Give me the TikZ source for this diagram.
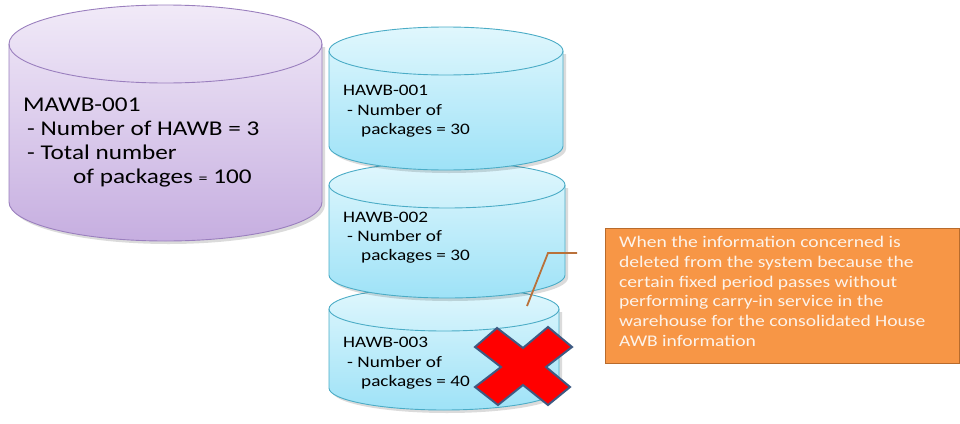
\documentclass[tikz,border=0pt]{standalone}
\usepackage{fontspec}
\setmainfont{Carlito}[FakeStretch=1.2]
\definecolor{mawbtop}{HTML}{F1EAF8}
\definecolor{mawbbot}{HTML}{C6AEE0}
\definecolor{mawbline}{HTML}{9A7FBE}
\definecolor{hawbtop}{HTML}{E0F7FD}
\definecolor{hawbbot}{HTML}{9EE2F7}
\definecolor{hawbline}{HTML}{4BACC6}
\definecolor{notefill}{HTML}{F79646}
\definecolor{noteline}{HTML}{B86B2C}
\definecolor{callout}{HTML}{B9713A}
\definecolor{xred}{HTML}{FF0000}
\definecolor{xline}{HTML}{3E5A82}
\definecolor{notetext}{HTML}{FDF3EA}
\newcommand{\mycyl}[7]{%
  % #1 L, #2 R, #3 rx, #4 top centre y, #5 bottom centre y, #6 ry, #7 style name
  \fill[black,opacity=0.14] (#1+3,-#4-3) -- (#1+3,-#5-3) arc[start angle=180,end angle=360,x radius=#3,y radius=#6] -- (#2+3,-#4-3) -- cycle;
  \path[#7] (#1,-#4) -- (#1,-#5) arc[start angle=180,end angle=360,x radius=#3,y radius=#6]
     -- (#2,-#4) arc[start angle=0,end angle=180,x radius=#3,y radius=#6] -- cycle;
  \draw[#7edge] (#1,-#4) arc[start angle=180,end angle=360,x radius=#3,y radius=#6];
}
\tikzset{
  mawb/.style={draw=mawbline,line width=0.9pt,top color=mawbtop,bottom color=mawbbot},
  mawbedge/.style={draw=mawbline,line width=0.9pt},
  hawb/.style={draw=hawbline,line width=0.9pt,top color=hawbtop,bottom color=hawbbot},
  hawbedge/.style={draw=hawbline,line width=0.9pt},
  bigtxt/.style={anchor=base west,inner sep=0pt,font=\fontsize{21}{24}\selectfont,text=black},
  smalltxt/.style={anchor=base west,inner sep=0pt,font=\fontsize{16}{18}\selectfont,text=black},
  notebox/.style={draw=noteline,line width=1.3pt,fill=notefill,anchor=north west,
     inner sep=0pt,minimum width=354pt,minimum height=135pt},
}
\begin{document}
\begin{tikzpicture}[x=1pt,y=1pt]
\useasboundingbox (0,0) rectangle (960,-423);
% cylinders (back to front)
\mycyl{329}{559}{115}{309}{388}{22}{hawb}
\mycyl{329}{565}{118}{185}{275}{23}{hawb}
\mycyl{329}{563}{117}{51}{146}{24}{hawb}
\mycyl{9}{322}{156.5}{44}{202}{39}{mawb}
% MAWB text
\node[bigtxt] (m1) at (23,-111) {MAWB-001};
\node[bigtxt] (m2) at (27,-135) {- Number of HAWB = 3};
\node[bigtxt] (m3) at (27,-159) {- Total number};
\node[bigtxt] (m4) at (73,-183) {of packages {\fontsize{15}{16}\selectfont=} 100};
% HAWB texts
\node[smalltxt] (a1) at (343,-95) {HAWB-001};
\node[smalltxt] (a2) at (347,-115) {- Number of};
\node[smalltxt] (a3) at (361,-134) {packages = 30};
\node[smalltxt] (b1) at (343,-222) {HAWB-002};
\node[smalltxt] (b2) at (347,-241) {- Number of};
\node[smalltxt] (b3) at (361,-260) {packages = 30};
\node[smalltxt] (c1) at (343,-347) {HAWB-003};
\node[smalltxt] (c2) at (347,-367) {- Number of};
\node[smalltxt] (c3) at (361,-386) {packages = 40};
% red cross
\filldraw[fill=xred,draw=xline,line width=2pt,line join=miter]
  (475,-347) -- (497,-328) -- (523,-348) -- (548,-327) -- (572,-347) -- (546,-367)
  -- (570,-387) -- (548,-405) -- (523,-385) -- (498,-405) -- (475,-387) -- (501,-367) -- cycle;
% note box
\node[notebox] (note) at (605,-228) {};
\node[anchor=north west,inner sep=0pt,align=left,text=notetext,
      font=\fontsize{16.3}{19.8}\selectfont] (notetxt) at (619,-236)
  {When the information concerned is\\
   deleted from the system because the\\
   certain fixed period passes without\\
   performing carry-in service in the\\
   warehouse for the consolidated House\\
   AWB information};
% callout
\coordinate (cstart) at (527,-306);
\coordinate (ckink) at (548,-253);
\coordinate (cend) at (577,-253);
\draw[callout,line width=1.8pt] (cstart) -- (ckink) -- (cend);
\end{tikzpicture}
\end{document}
